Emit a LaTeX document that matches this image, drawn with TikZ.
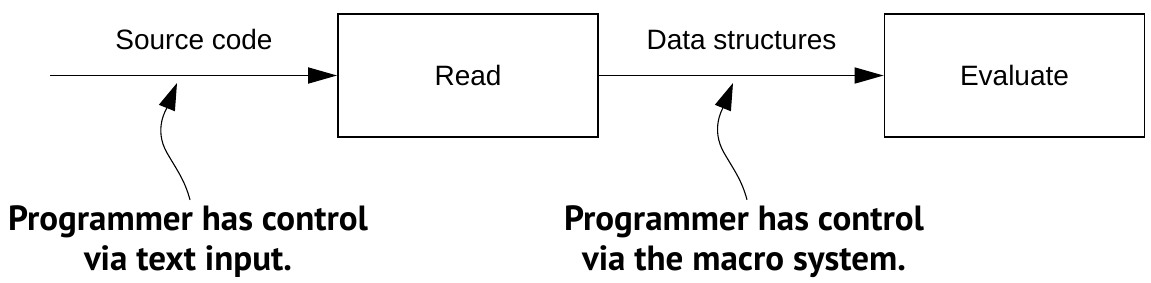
\documentclass[tikz,border=0pt]{standalone}
\usepackage{fontspec}
\setmainfont{Liberation Sans}
\newfontfamily\notefont{PT Sans}
\usetikzlibrary{arrows.meta}

\begin{document}
\begin{tikzpicture}[x=1pt,y=1pt,
	stage/.style={draw,line width=1.8pt,minimum width=260pt,minimum height=123pt,inner sep=0pt,font=\fontsize{28}{30}\selectfont},
	label/.style={anchor=base,font=\fontsize{28}{30}\selectfont},
	note/.style={align=center,inner sep=2pt,font=\notefont\bfseries\fontsize{35}{40}\selectfont},
	flow/.style={line width=1.8pt,-{Triangle[length=29pt,width=16pt]}},
	pointer/.style={line width=1.1pt,-{Triangle[length=27pt,width=17pt]}}]
			\useasboundingbox (0,0) rectangle (1151,282);
			\coordinate (start) at (50,206.5);
			\node[stage] (read) at (468,206.5) {Read};
			\node[stage] (eval) at (1014.5,206.5) {Evaluate};
			\node[label] (src) at (194,233) {Source code};
			\node[label] (data) at (741.5,233) {Data structures};
			\node[note] (note1) at (188,40) {Programmer has control\\via text input.};
			\node[note] (note2) at (744,40) {Programmer has control\\via the macro system.};
			\coordinate (tip1) at (177,199);
			\coordinate (tip2) at (733,199);

			\draw[flow] (start) -- (read);
			\draw[flow] (read) -- (eval);

			\begin{scope}
			\draw[pointer] ([shift={(2pt,4pt)}]note1.north) to[out=105,in=-60] ++(-23,47) to[out=120,in=248] (tip1);
			\draw[pointer] ([shift={(3pt,4pt)}]note2.north) to[out=105,in=-60] ++(-23,47) to[out=120,in=248] (tip2);
			\end{scope}
\end{tikzpicture}
\end{document}
